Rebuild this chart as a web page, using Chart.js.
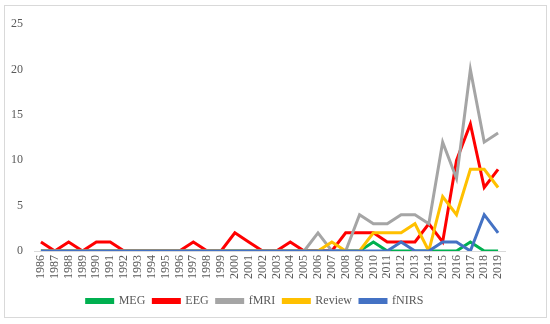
<!DOCTYPE html>
<html>
<head>
<meta charset="utf-8">
<script src="https://cdn.jsdelivr.net/npm/chart.js@4/dist/chart.umd.min.js"></script>
<style>
  html, body { margin: 0; padding: 0; background: #fff; }
  #box { position: absolute; left: 4px; top: 5px; width: 541px; height: 311px; border: 1px solid #d9d9d9; }
  canvas { display: block; }
</style>
</head>
<body>
<div id="box"><canvas id="c" width="541" height="311"></canvas></div>
<script>
const years = [];
for (let y = 1986; y <= 2019; y++) years.push(String(y));

// 1986 .. 2019
const meg    = [0,0,0,0,0,0,0,0,0,0, 0,0,0,0,0,0,0,0,0,0, 0,0,0,0,1,0,0,0,0,0, 0,1,0,0];
const eeg    = [1,0,1,0,1,1,0,0,0,0, 0,1,0,0,2,1,0,0,1,0, 0,0,2,2,2,1,1,1,3,1, 10,14,7,9];
const fmri   = [0,0,0,0,0,0,0,0,0,0, 0,0,0,0,0,0,0,0,0,0, 2,0,0,4,3,3,4,4,3,12, 8,20,12,13];
const review = [0,0,0,0,0,0,0,0,0,0, 0,0,0,0,0,0,0,0,0,0, 0,1,0,0,2,2,2,3,0,6, 4,9,9,7];
const fnirs  = [0,0,0,0,0,0,0,0,0,0, 0,0,0,0,0,0,0,0,0,0, 0,0,0,0,0,0,1,0,0,1, 1,0,4,2];

const yTicks = [0, 5, 10, 15, 20, 25];

const FONT = "'Liberation Serif', 'Times New Roman', serif";
const TEXT = '#595959';

function series(label, data, color, order) {
  return {
    label, data, order,
    borderColor: color,
    backgroundColor: color,
    borderWidth: 3,
    pointRadius: 0,
    tension: 0,
    fill: false,
  };
}

new Chart(document.getElementById('c'), {
  type: 'line',
  data: {
    labels: years,
    datasets: [
      series('MEG', meg, '#00b050', 5),
      series('EEG', eeg, '#ff0000', 4),
      series('fMRI', fmri, '#a5a5a5', 3),
      series('Review', review, '#ffc000', 2),
      series('fNIRS', fnirs, '#4472c4', 1),
    ],
  },
  options: {
    responsive: false,
    animation: false,
    layout: { padding: { left: 0, right: 41, top: 14, bottom: 0 } },
    plugins: {
      tooltip: { enabled: false },
      legend: {
        position: 'bottom',
        labels: {
          sort: (a, b) => a.datasetIndex - b.datasetIndex,
          color: TEXT,
          font: { family: FONT, size: 12 },
          boxWidth: 26,
          boxHeight: 3,
          padding: 8,
        },
      },
    },
    scales: {
      x: {
        offset: true,
        grid: { display: false, drawTicks: false },
        border: { color: '#d9d9d9', width: 1 },
        ticks: {
          color: TEXT,
          font: { family: FONT, size: 12 },
          maxRotation: 90,
          minRotation: 90,
          autoSkip: false,
          padding: 4,
        },
        afterFit: s => { s.height = 36; },
      },
      y: {
        min: 0,
        max: 25,
        afterBuildTicks: s => { s.ticks = yTicks.map(v => ({ value: v })); },
        grid: { display: false, drawTicks: false },
        border: { display: false },
        ticks: {
          color: TEXT,
          font: { family: FONT, size: 12 },
          padding: 11,
        },
        afterFit: s => { s.width = 29; },
      },
    },
  },
});
</script>
</body>
</html>
